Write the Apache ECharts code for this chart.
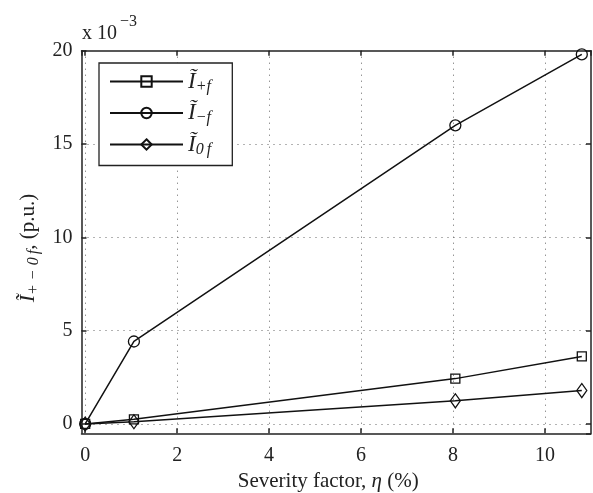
<!DOCTYPE html>
<html><head><meta charset="utf-8">
<script src="https://cdn.jsdelivr.net/npm/echarts@6/dist/echarts.min.js"></script>
<style>html,body{margin:0;padding:0;background:#fff}#c{width:593px;height:493px}</style>
</head><body><div id="c"></div>
<script>
// Severity factor eta (%)
const xValues = [0, 1.06, 8.05, 10.8];
// Currents in units of 1e-3 p.u.
const iPlus  = [0, 0.25, 2.43, 3.62];
const iMinus = [0, 4.42, 16.0, 19.8];
const iZero  = [0, 0.12, 1.24, 1.79];
const seriesNames = ['Iplus', 'Iminus', 'Izero'];
const legendSubs = ['+f', '\u2212f', '0\u2009f'];
const symbols = ['rect', 'circle', 'diamond'];
const symbolSizes = [9, 11, [10, 14]];
const seriesValues = [iPlus, iMinus, iZero];
const xAxisTitle = 'Severity factor, ';
const yScaleNote = ['x 10', '\u22123'];

const FONT = 'Liberation Serif';
const chart = echarts.init(document.getElementById('c'), null, {renderer: 'canvas'});

const gridLine = {show: true, showMinLine: false, showMaxLine: false,
  lineStyle: {color: '#666', type: [1, 5], width: 1}};
const axLine = {show: true, onZero: false, lineStyle: {color: '#222', width: 1.5}};
const axTick = {show: true, inside: true, length: 5, lineStyle: {color: '#222', width: 1.5}};

const series = seriesNames.map((n, k) => ({
  name: n,
  type: 'line',
  xAxisIndex: 0, yAxisIndex: 0,
  data: xValues.map((x, i) => [x, seriesValues[k][i]]),
  symbol: symbols[k],
  symbolSize: symbolSizes[k],
  showAllSymbol: true,
  lineStyle: {color: '#111', width: 1.5},
  itemStyle: {color: 'rgba(0,0,0,0)', borderColor: '#111', borderWidth: 1.3},
  emphasis: {disabled: true},
  animation: false
}));

chart.setOption({
  animation: false,
  backgroundColor: '#fff',
  grid: {left: 81.5, right: 2, top: 50.7, bottom: 59.7, containLabel: false, outerBoundsMode: 'none'},
  xAxis: [{
    type: 'value', min: -0.08, max: 11, position: 'bottom', splitNumber: 5,
    axisLine: axLine, axisTick: axTick, splitLine: gridLine,
    axisLabel: {fontFamily: FONT, fontSize: 20, color: '#222', margin: 12, showMinLabel: false, showMaxLabel: false},
    name: '{a|' + xAxisTitle + '}{b|\u03b7}{a| (%)}',
    nameLocation: 'middle', nameGap: 38,
    nameTextStyle: {padding: [0, 16, 0, 0], rich: {
      a: {fontFamily: FONT, fontSize: 21, color: '#222'},
      b: {fontFamily: FONT, fontSize: 21, fontStyle: 'italic', color: '#222'}
    }}
  }, {
    type: 'value', min: -0.08, max: 11, position: 'top', splitNumber: 5,
    axisLine: axLine, axisTick: axTick, splitLine: {show: false}, axisLabel: {show: false}
  }],
  yAxis: [{
    type: 'value', min: -0.5, max: 20, position: 'left', splitNumber: 4,
    axisLine: axLine, axisTick: axTick, splitLine: gridLine,
    axisLabel: {fontFamily: FONT, fontSize: 20, color: '#222', margin: 9, showMinLabel: false},
    name: '{i|\u0128}{s|+ \u2212 0\u2009f}{t|, (p.u.)}',
    nameLocation: 'middle', nameGap: 34, nameRotate: 90,
    nameTextStyle: {padding: [0, 12, 0, 0], rich: {
      i: {fontFamily: FONT, fontSize: 22, fontStyle: 'italic', color: '#222', lineHeight: 26, verticalAlign: 'middle'},
      s: {fontFamily: FONT, fontSize: 16, fontStyle: 'italic', color: '#222', lineHeight: 13, verticalAlign: 'bottom'},
      t: {fontFamily: FONT, fontSize: 21, color: '#222', lineHeight: 26, verticalAlign: 'middle'}
    }}
  }, {
    type: 'value', min: -0.5, max: 20, position: 'right', splitNumber: 4,
    axisLine: axLine, axisTick: axTick, splitLine: {show: false}, axisLabel: {show: false, showMinLabel: false}
  }],
  legend: {
    show: true, orient: 'vertical', left: 99, top: 63,
    backgroundColor: '#fff', borderColor: '#222', borderWidth: 1.3, borderRadius: 0,
    padding: [7, 21, 8, 10], itemGap: 7,
    itemWidth: 73, itemHeight: 13,
    selectedMode: false,
    data: seriesNames,
    formatter: function (name) {
      const k = seriesNames.indexOf(name);
      return '{i|\u0128}{s|' + legendSubs[k] + '}';
    },
    textStyle: {rich: {
      i: {fontFamily: FONT, fontSize: 23, fontStyle: 'italic', color: '#222', lineHeight: 26, verticalAlign: 'middle'},
      s: {fontFamily: FONT, fontSize: 16, fontStyle: 'italic', color: '#222', lineHeight: 14, verticalAlign: 'bottom'}
    }}
  },
  graphic: [
    {type: 'text', left: 82, top: 24, silent: true,
     style: {text: yScaleNote[0], fontFamily: FONT, fontSize: 20, fill: '#222'}},
    {type: 'text', left: 120, top: 14, silent: true,
     style: {text: yScaleNote[1], fontFamily: FONT, fontSize: 16, fill: '#222'}}
  ],
  series: series
});
</script></body></html>
